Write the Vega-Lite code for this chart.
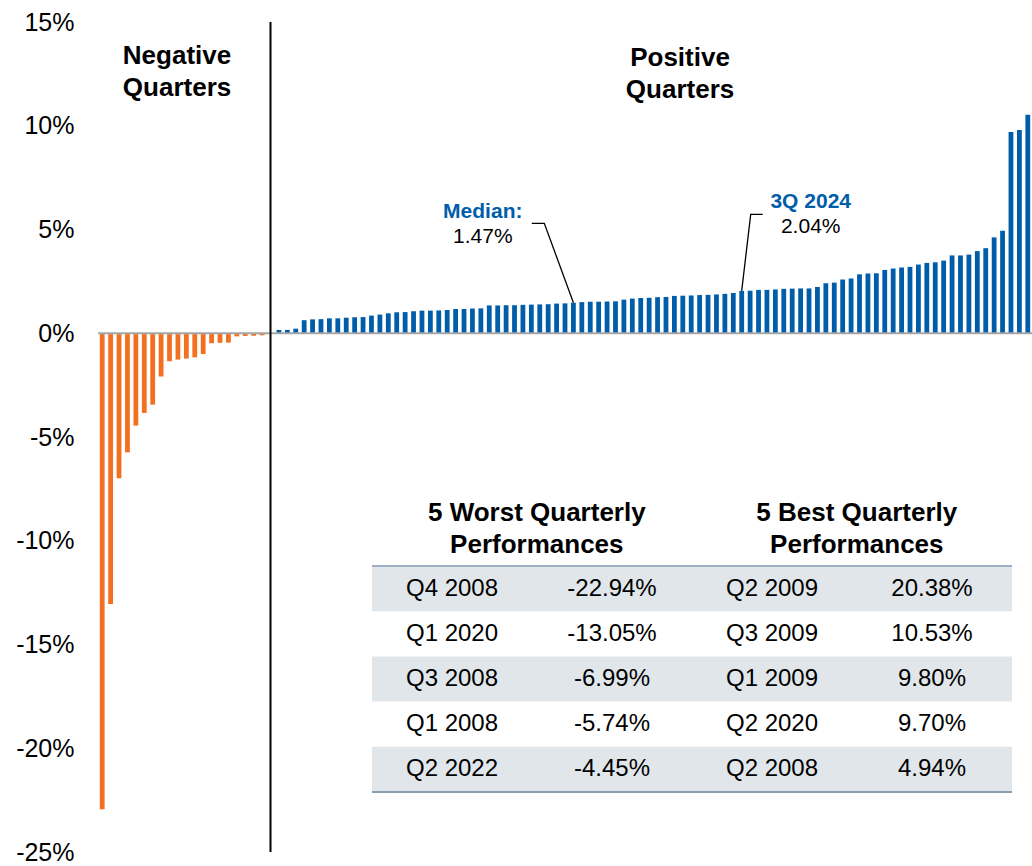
{
  "$schema": "https://vega.github.io/schema/vega-lite/v6.json",
  "width": 934,
  "height": 830,
  "autosize": "none",
  "padding": {"left": 98, "top": 22, "right": 0, "bottom": 14},
  "background": "white",
  "config": {"view": {"stroke": null}, "font": "Liberation Sans"},
  "layer": [
    {
      "layer": [
        {
          "data": {"values": [
            {"i": 1, "v": -22.94}, {"i": 2, "v": -13.05}, {"i": 3, "v": -6.99}, {"i": 4, "v": -5.74}, {"i": 5, "v": -4.45},
            {"i": 6, "v": -3.84}, {"i": 7, "v": -3.44}, {"i": 8, "v": -2.09}, {"i": 9, "v": -1.35}, {"i": 10, "v": -1.27},
            {"i": 11, "v": -1.22}, {"i": 12, "v": -1.16}, {"i": 13, "v": -1.0}, {"i": 14, "v": -0.48}, {"i": 15, "v": -0.46},
            {"i": 16, "v": -0.45}, {"i": 17, "v": -0.15}, {"i": 18, "v": -0.13}, {"i": 19, "v": -0.12}, {"i": 20, "v": -0.1},
            {"i": 22, "v": 0.16}, {"i": 23, "v": 0.16}, {"i": 24, "v": 0.22}, {"i": 25, "v": 0.63}, {"i": 26, "v": 0.67},
            {"i": 27, "v": 0.68}, {"i": 28, "v": 0.72}, {"i": 29, "v": 0.72}, {"i": 30, "v": 0.75}, {"i": 31, "v": 0.77},
            {"i": 32, "v": 0.78}, {"i": 33, "v": 0.85}, {"i": 34, "v": 0.9}, {"i": 35, "v": 0.96}, {"i": 36, "v": 1.01},
            {"i": 37, "v": 1.02}, {"i": 38, "v": 1.06}, {"i": 39, "v": 1.09}, {"i": 40, "v": 1.09}, {"i": 41, "v": 1.1},
            {"i": 42, "v": 1.12}, {"i": 43, "v": 1.17}, {"i": 44, "v": 1.17}, {"i": 45, "v": 1.19}, {"i": 46, "v": 1.2},
            {"i": 47, "v": 1.34}, {"i": 48, "v": 1.34}, {"i": 49, "v": 1.35}, {"i": 50, "v": 1.35}, {"i": 51, "v": 1.37},
            {"i": 52, "v": 1.38}, {"i": 53, "v": 1.39}, {"i": 54, "v": 1.4}, {"i": 55, "v": 1.43}, {"i": 56, "v": 1.44},
            {"i": 57, "v": 1.47}, {"i": 58, "v": 1.5}, {"i": 59, "v": 1.52}, {"i": 60, "v": 1.52}, {"i": 61, "v": 1.53},
            {"i": 62, "v": 1.54}, {"i": 63, "v": 1.62}, {"i": 64, "v": 1.67}, {"i": 65, "v": 1.7}, {"i": 66, "v": 1.71},
            {"i": 67, "v": 1.74}, {"i": 68, "v": 1.75}, {"i": 69, "v": 1.8}, {"i": 70, "v": 1.81}, {"i": 71, "v": 1.82},
            {"i": 72, "v": 1.84}, {"i": 73, "v": 1.85}, {"i": 74, "v": 1.87}, {"i": 75, "v": 1.9}, {"i": 76, "v": 1.94},
            {"i": 77, "v": 2.04}, {"i": 78, "v": 2.05}, {"i": 79, "v": 2.09}, {"i": 80, "v": 2.09}, {"i": 81, "v": 2.11},
            {"i": 82, "v": 2.14}, {"i": 83, "v": 2.15}, {"i": 84, "v": 2.16}, {"i": 85, "v": 2.16}, {"i": 86, "v": 2.23},
            {"i": 87, "v": 2.41}, {"i": 88, "v": 2.44}, {"i": 89, "v": 2.59}, {"i": 90, "v": 2.64}, {"i": 91, "v": 2.84},
            {"i": 92, "v": 2.88}, {"i": 93, "v": 2.89}, {"i": 94, "v": 3.05}, {"i": 95, "v": 3.12}, {"i": 96, "v": 3.17},
            {"i": 97, "v": 3.2}, {"i": 98, "v": 3.31}, {"i": 99, "v": 3.39}, {"i": 100, "v": 3.42}, {"i": 101, "v": 3.5},
            {"i": 102, "v": 3.75}, {"i": 103, "v": 3.75}, {"i": 104, "v": 3.79}, {"i": 105, "v": 3.96}, {"i": 106, "v": 4.1},
            {"i": 107, "v": 4.62}, {"i": 108, "v": 4.94}, {"i": 109, "v": 9.7}, {"i": 110, "v": 9.8}, {"i": 111, "v": 10.53}
          ]},
          "mark": {"type": "bar", "width": 4.8, "orient": "vertical"},
          "encoding": {
            "x": {"field": "i", "type": "quantitative", "scale": {"domain": [0.5, 111.5], "nice": false, "zero": false, "padding": 0}, "axis": null},
            "y": {"field": "v", "type": "quantitative", "scale": {"domain": [-25, 15], "nice": false},
              "axis": {"values": [-25, -20, -15, -10, -5, 0, 5, 10, 15], "labelExpr": "datum.value + '%'", "domain": false, "ticks": false, "tickSize": 0, "grid": false,
                "labelFontSize": 25, "labelFont": "Liberation Sans", "labelColor": "#000000", "labelPadding": 24, "title": null,
                "labelFlush": false, "labelOverlap": false, "labelBound": false}},
            "color": {"condition": {"test": "datum.v < 0", "value": "#F37021"}, "value": "#005DAA"}
          }
        },
        {
          "data": {"values": [{"v": 0}]},
          "mark": {"type": "rule", "color": "#A6A6A6", "strokeWidth": 2},
          "encoding": {"y": {"field": "v", "type": "quantitative"}}
        },
        {
          "data": {"values": [{"i": 21}]},
          "mark": {"type": "rule", "color": "#000000", "strokeWidth": 2},
          "encoding": {"x": {"field": "i", "type": "quantitative"}}
        },
        {
          "data": {"values": [
            {"ann": "median", "i": 52.05, "v": 5.3}, {"ann": "median", "i": 53.54, "v": 5.3}, {"ann": "median", "i": 57, "v": 1.47},
            {"ann": "q3", "i": 79.5, "v": 5.73}, {"ann": "q3", "i": 78.07, "v": 5.73}, {"ann": "q3", "i": 77, "v": 2.04}
          ]},
          "mark": {"type": "line", "color": "#000000", "strokeWidth": 1.3},
          "encoding": {
            "x": {"field": "i", "type": "quantitative"},
            "y": {"field": "v", "type": "quantitative"},
            "detail": {"field": "ann"}
          }
        },
        {
          "data": {"values": [
            {"t": "Negative\nQuarters", "i": 9.89, "v": 13.36},
            {"t": "Positive\nQuarters", "i": 69.67, "v": 13.27}
          ]},
          "mark": {"type": "text", "fontSize": 26, "fontWeight": "bold", "color": "#000000", "align": "center", "baseline": "middle", "lineBreak": "\n", "lineHeight": 32},
          "encoding": {
            "x": {"field": "i", "type": "quantitative"},
            "y": {"field": "v", "type": "quantitative"},
            "text": {"field": "t"}
          }
        },
        {
          "data": {"values": [
            {"t": "Median:", "i": 46.23, "v": 5.82},
            {"t": "3Q 2024", "i": 85.2, "v": 6.33}
          ]},
          "mark": {"type": "text", "fontSize": 21, "fontWeight": "bold", "color": "#005DAA", "align": "center", "baseline": "middle"},
          "encoding": {
            "x": {"field": "i", "type": "quantitative"},
            "y": {"field": "v", "type": "quantitative"},
            "text": {"field": "t"}
          }
        },
        {
          "data": {"values": [
            {"t": "1.47%", "i": 46.23, "v": 4.66},
            {"t": "2.04%", "i": 85.2, "v": 5.1}
          ]},
          "mark": {"type": "text", "fontSize": 21, "color": "#000000", "align": "center", "baseline": "middle"},
          "encoding": {
            "x": {"field": "i", "type": "quantitative"},
            "y": {"field": "v", "type": "quantitative"},
            "text": {"field": "t"}
          }
        }
      ]
    },
    {
      "data": {"values": [
        {"rank": 1, "worstQ": "Q4 2008", "worstR": "-22.94%", "bestQ": "Q2 2009", "bestR": "20.38%"},
        {"rank": 2, "worstQ": "Q1 2020", "worstR": "-13.05%", "bestQ": "Q3 2009", "bestR": "10.53%"},
        {"rank": 3, "worstQ": "Q3 2008", "worstR": "-6.99%", "bestQ": "Q1 2009", "bestR": "9.80%"},
        {"rank": 4, "worstQ": "Q1 2008", "worstR": "-5.74%", "bestQ": "Q2 2020", "bestR": "9.70%"},
        {"rank": 5, "worstQ": "Q2 2022", "worstR": "-4.45%", "bestQ": "Q2 2008", "bestR": "4.94%"}
      ]},
      "transform": [{"fold": ["worstQ", "worstR", "bestQ", "bestR"]}],
      "layer": [
        {
          "transform": [{"filter": "datum.rank % 2 == 1"}],
          "mark": {"type": "rect", "color": "#E1E6EB"},
          "encoding": {
            "x": {"field": "key", "type": "nominal", "scale": {"type": "band", "domain": ["worstQ", "worstR", "bestQ", "bestR"], "range": [274, 914], "paddingInner": 0, "paddingOuter": 0}, "axis": null},
            "y": {"field": "rank", "type": "ordinal", "scale": {"type": "band", "domain": ["h0", "h", 1, 2, 3, 4, 5], "range": [453.6, 770], "paddingInner": 0, "paddingOuter": 0}, "axis": null}
          }
        },
        {
          "transform": [{"filter": "datum.rank == 1 && datum.key == 'worstQ'"}],
          "mark": {"type": "rule", "color": "#9EB1C4", "strokeWidth": 2},
          "encoding": {
            "x": {"datum": "worstQ", "type": "nominal", "bandPosition": 0},
            "x2": {"datum": "bestR", "bandPosition": 1},
            "y": {"datum": 1, "type": "ordinal", "bandPosition": 0}
          }
        },
        {
          "transform": [{"filter": "datum.rank == 1 && datum.key == 'worstQ'"}],
          "mark": {"type": "rule", "color": "#8C9DB0", "strokeWidth": 2},
          "encoding": {
            "x": {"datum": "worstQ", "type": "nominal", "bandPosition": 0},
            "x2": {"datum": "bestR", "bandPosition": 1},
            "y": {"datum": 5, "type": "ordinal", "bandPosition": 1}
          }
        },
        {
          "mark": {"type": "text", "fontSize": 24, "color": "#000000", "align": "center", "baseline": "middle"},
          "encoding": {
            "x": {"field": "key", "type": "nominal"},
            "y": {"field": "rank", "type": "ordinal"},
            "text": {"field": "value"}
          }
        },
        {
          "data": {"values": [
            {"h": "5 Worst Quarterly\nPerformances", "side": "worstR"},
            {"h": "5 Best Quarterly\nPerformances", "side": "bestR"}
          ]},
          "transform": [],
          "mark": {"type": "text", "fontSize": 26, "fontWeight": "bold", "color": "#000000", "align": "center", "baseline": "middle", "lineBreak": "\n", "lineHeight": 32},
          "encoding": {
            "x": {"field": "side", "type": "nominal", "bandPosition": 0.03},
            "y": {"datum": "h0", "type": "ordinal", "bandPosition": 0.83},
            "text": {"field": "h"}
          }
        }
      ]
    }
  ],
  "resolve": {"scale": {"x": "independent", "y": "independent"}}
}
